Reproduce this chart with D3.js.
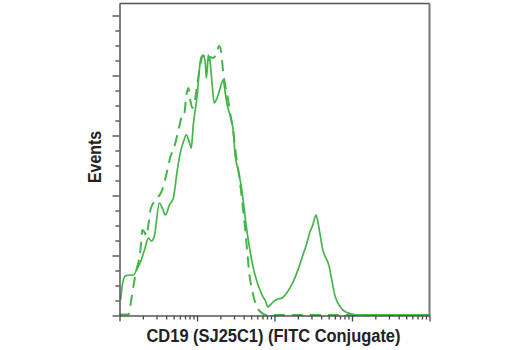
<!DOCTYPE html>
<html><head><meta charset="utf-8">
<script src="https://cdn.jsdelivr.net/npm/d3@7"></script>
<style>body{margin:0;background:#fff}svg{display:block}</style>
</head><body>
<svg id="c" width="520" height="350"></svg>
<script>
// Sample (solid) histogram: CD19 (SJ25C1) FITC intensity vs events
const sampleX = [1.03,1.09,1.19,1.38,1.51,1.70,1.86,2.10,2.36,2.58,2.82,3.27,3.57,3.91,4.40,4.95,5.57,6.09,6.66,7.27,7.94,8.44,8.95,9.50,10.07,10.7,11.35,12.03,12.77,13.15,13.55,13.96,14.8,15.71,16.67,17.69,18.76,19.91,21.76,23.09,24.5,26.0,27.57,29.26,31.05,33.93,35.99,39.35,43.0,46.99,52.9,59.6,65.1,71.1,75.5,82.5,90.2,98.5,110.9,124.9,140.6,158.2,178.1,200.5,225.8,261.8,286.2,312.7,341.9,362.7,384.6,420.7,459.6,502.3,549,600,655.8,738,831,993,1258,10000];
const sampleY = [5.2,10.2,13.2,13.5,13.5,15.8,17.8,21.8,25.8,24.8,26.5,37.5,35.8,33.5,36.8,39.2,48.5,54.2,57.8,60.2,57.8,55.8,63.5,68.5,73.5,81.8,86.2,86.8,84.5,79.2,81.8,86.8,84.2,76.8,70.8,71.8,73.5,75.8,78.5,74.5,70.2,67.8,65.8,61.8,53.5,48.5,45.2,38.5,30.2,23.5,16.2,11.2,8.5,6.2,5.2,2.8,3.8,4.8,5.5,5.8,7.2,9.2,11.8,15.2,19.2,24.2,27.8,30.2,33.5,31.2,27.5,21.8,19.2,16.8,11.8,6.8,4.2,2.2,1.2,0.5,0.2,0.2];
// Isotype control (dashed) histogram
const controlX = [1,1.306,1.385,1.47,1.56,1.654,1.755,1.862,1.976,2.097,2.225,2.36,2.505,2.737,3.08,3.47,3.79,4.14,4.53,5.10,5.57,6.09,6.46,6.85,7.27,7.72,8.19,8.69,9.22,10.07,11.01,12.03,13.15,13.96,14.8,16.18,17.69,19.32,20.51,21.76,23.09,25.23,27.57,29.26,31.05,32.94,34.95,37.09,39.35,41.75,44.3,46.99,51.35,56.1,61.35,69.0,77.8,10000];
const controlY = [0.3,0.3,3.5,7.8,11.8,15.2,17.8,21.8,28.5,27.8,26.5,30.2,35.2,37.5,39.2,41.2,44.2,48.5,52.8,56.2,60.2,64.5,67.5,67.5,73.2,75.8,71.8,69.2,70.8,76.8,83.5,86.5,85.8,84.5,86.2,85.8,87.2,89.8,87.8,81.2,76.8,71.8,65.2,61.8,55.8,50.8,46.8,41.2,35.2,29.2,21.8,14.5,8.5,4.5,2.2,0.8,0.2,0.2];
const xDomain = [1, 10000];
const yDomain = [0, 104];
const yMajorTicks = [0,20,40,60,80,100];
const xLabel = "CD19 (SJ25C1) (FITC Conjugate)";
const yLabel = "Events";

const svg = d3.select("#c");
const L = 119.5, R = 429.5, T = 3.5, B = 315.5;
const x = d3.scaleLog().domain(xDomain).range([L, R]);
const y = d3.scaleLinear().domain(yDomain).range([B, T]);
const green = "#44b549";
const axisCol = "#444";

// curves
const line = d3.line().x(d => x(d[0])).y(d => y(d[1])).curve(d3.curveMonotoneX);
svg.append("path").datum(d3.zip(controlX, controlY))
  .attr("d", line).attr("fill","none").attr("stroke",green)
  .attr("stroke-width",2).attr("stroke-dasharray","11,7");
svg.append("path").datum(d3.zip(sampleX, sampleY))
  .attr("d", line).attr("fill","none").attr("stroke",green)
  .attr("stroke-width",1.7);

// frame (top, right)
svg.append("line").attr("x1",L).attr("x2",R).attr("y1",T).attr("y2",T).attr("stroke","#555").attr("stroke-width",1.5);
svg.append("line").attr("x1",R).attr("x2",R).attr("y1",T).attr("y2",B).attr("stroke","#777").attr("stroke-width",2);

// y axis
const yMinor = d3.range(0, 101, 5).filter(v => !yMajorTicks.includes(v));
const gy = svg.append("g").attr("transform",`translate(${L},0)`);
gy.call(d3.axisLeft(y).tickValues(yMinor).tickSize(4).tickFormat(""));
gy.call(g => g.select(".domain").remove());
const gy2 = svg.append("g").attr("transform",`translate(${L},0)`);
gy2.call(d3.axisLeft(y).tickValues(yMajorTicks).tickSize(7).tickFormat("").tickSizeOuter(0));
gy2.select(".domain").attr("stroke","#555").attr("stroke-width",1.5);

// x axis
const allX = x.ticks();
const xMajor = allX.filter(v => Math.abs(Math.log10(v) - Math.round(Math.log10(v))) < 1e-9);
const xMinor = allX.filter(v => !xMajor.includes(v));
const gx = svg.append("g").attr("transform",`translate(0,${B})`);
gx.call(d3.axisBottom(x).tickValues(xMinor).tickSize(4).tickFormat(""));
gx.call(g => g.select(".domain").remove());
const gx2 = svg.append("g").attr("transform",`translate(0,${B})`);
gx2.call(d3.axisBottom(x).tickValues(xMajor).tickSize(6).tickFormat("").tickSizeOuter(0));
gx2.select(".domain").attr("stroke","#555").attr("stroke-width",1.5);
svg.selectAll(".tick line").attr("stroke",axisCol).attr("stroke-width",1.3);

// labels
svg.append("text").attr("x",(L+R)/2 - 1).attr("y",341.5).attr("text-anchor","middle")
  .attr("font-family","Liberation Sans, Arial, sans-serif").attr("font-weight","bold")
  .attr("font-size",18).attr("fill","#222")
  .attr("textLength",254).attr("lengthAdjust","spacingAndGlyphs").text(xLabel);
svg.append("text").attr("transform","translate(101,157) rotate(-90)").attr("text-anchor","middle")
  .attr("font-family","Liberation Sans, Arial, sans-serif").attr("font-weight","bold")
  .attr("font-size",18).attr("fill","#222")
  .attr("textLength",52).attr("lengthAdjust","spacingAndGlyphs").text(yLabel);
</script>
</body></html>
